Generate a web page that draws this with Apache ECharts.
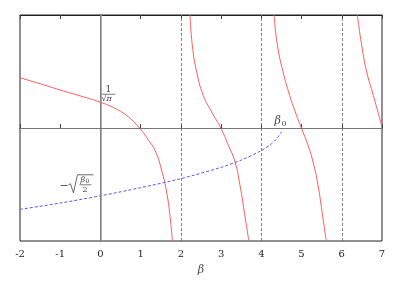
<!DOCTYPE html>
<html><head><meta charset="utf-8">
<script src="https://cdn.jsdelivr.net/npm/echarts@6/dist/echarts.min.js"></script>
<style>html,body{margin:0;padding:0;background:#fff}#c{width:402px;height:282px}</style>
</head><body><div id="c"></div>
<script>
const xTicks = [-2,-1,0,1,2,3,4,5,6,7];
const vDashed = [2,4,6];
const curve1 = [[-2,1.11],[-1.5,0.98],[-1,0.84],[-0.5,0.71],[0,0.57],[0.36,0.435],[0.69,0.25],[0.97,0],[1.19,-0.265],[1.36,-0.5],[1.52,-0.93],[1.65,-1.44],[1.73,-1.96],[1.79,-2.5]];
const curve2 = [[2.227,2.5],[2.284,1.83],[2.393,1.24],[2.557,0.72],[2.766,0.354],[2.99,0],[3.18,-0.38],[3.345,-0.75],[3.47,-1.27],[3.577,-1.86],[3.69,-2.5]];
const curve3 = [[4.315,2.5],[4.40,1.83],[4.54,1.24],[4.705,0.72],[4.845,0.354],[4.995,0],[5.16,-0.38],[5.285,-0.75],[5.41,-1.27],[5.51,-1.86],[5.615,-2.5]];
const curve4 = [[6.386,2.5],[6.495,1.83],[6.62,1.24],[6.785,0.72],[7.0,0.03]];
const blue = [[-2,-1.80],[-1,-1.66],[0,-1.50],[1,-1.32],[2,-1.12],[3,-0.87],[3.5,-0.71],[4,-0.50],[4.25,-0.35],[4.4,-0.22],[4.5,-0.08]];

const chart = echarts.init(document.getElementById('c'), null, {renderer:'canvas'});
const serif = '"DejaVu Serif","Liberation Serif",serif';
const red = {type:'line', showSymbol:false, smooth:0.5, lineStyle:{color:'#ff5a5a', width:1}, silent:true, z:3};
chart.setOption({
  animation:false,
  grid:{left:20,right:20,top:15,bottom:41,show:true,borderColor:'#222',borderWidth:1},
  xAxis:[{type:'value',min:-2,max:7,interval:1,
    axisLine:{lineStyle:{color:'#222'}},
    axisTick:{inside:true,length:4,lineStyle:{color:'#444'}},
    axisLabel:{color:'#222',fontFamily:serif,fontSize:10,margin:8,formatter:v=>String(v)},
    splitLine:{show:false},
    name:'β',nameLocation:'middle',nameGap:24,nameTextStyle:{fontFamily:serif,fontStyle:'italic',fontSize:11,color:'#444'}},
    {type:'value',position:'top',min:-2,max:7,interval:1,axisLine:{lineStyle:{color:'#222'}},
     axisTick:{inside:true,length:4,lineStyle:{color:'#444'}},axisLabel:{show:false},splitLine:{show:false}}],
  yAxis:{type:'value',min:-2.5,max:2.5,axisLine:{show:true,lineStyle:{color:'#222'}},axisTick:{show:false},axisLabel:{show:false},splitLine:{show:false}},
  series:[
    {type:'line',data:[],silent:true,
     markLine:{symbol:'none',silent:true,label:{show:false},animation:false,
       data:[
         {xAxis:0,lineStyle:{color:'#999',width:1.6,type:'solid'}},
         {yAxis:0,lineStyle:{color:'#777',width:1.2,type:'solid'}},
         ...vDashed.map(v=>({xAxis:v,lineStyle:{color:'#666',width:0.8,type:[3,2]}}))
       ]}},
    Object.assign({data:curve1},red),
    Object.assign({data:curve2},red),
    Object.assign({data:curve3},red),
    Object.assign({data:curve4},red),
    {type:'line',data:blue,showSymbol:false,smooth:0.3,silent:true,z:3,
     lineStyle:{color:'#5555ff',width:1,type:[3,2]}}
  ]
});

// annotations anchored to data coordinates
const p1 = chart.convertToPixel({xAxisIndex:0,yAxisIndex:0},[0,0.57]);
const p2 = chart.convertToPixel({xAxisIndex:0,yAxisIndex:0},[4.5,0]);
const p3 = chart.convertToPixel({xAxisIndex:0,yAxisIndex:0},[0,-1.5]);
const tc = '#444';
chart.setOption({graphic:[
  // 1/sqrt(pi)
  {type:'text',x:p1[0]+5,y:p1[1]-17,style:{text:'1',font:'9px '+serif,fill:tc}},
  {type:'line',shape:{x1:p1[0]+1,y1:p1[1]-8,x2:p1[0]+15,y2:p1[1]-8},style:{stroke:tc,lineWidth:0.7}},
  {type:'text',x:p1[0]+1,y:p1[1]-7,style:{text:'√π',font:'italic 8px '+serif,fill:tc}},
  // beta_0
  {type:'text',x:p2[0]-7,y:p2[1]-12,style:{text:'β',font:'italic 11px '+serif,fill:tc}},
  {type:'text',x:p2[0]+0,y:p2[1]-8,style:{text:'0',font:'8px '+serif,fill:tc}},
  // -sqrt(beta0/2)
  {type:'text',x:p3[0]-41,y:p3[1]-15,style:{text:'−',font:'11px '+serif,fill:tc}},
  {type:'polyline',shape:{points:[[p3[0]-32,p3[1]-11],[p3[0]-30,p3[1]-12],[p3[0]-27,p3[1]-3],[p3[0]-23,p3[1]-21],[p3[0]-7,p3[1]-21]]},style:{stroke:tc,lineWidth:0.8,fill:null}},
  {type:'text',x:p3[0]-20,y:p3[1]-20,style:{text:'β',font:'italic 8px '+serif,fill:tc}},
  {type:'text',x:p3[0]-15,y:p3[1]-17,style:{text:'0',font:'6px '+serif,fill:tc}},
  {type:'line',shape:{x1:p3[0]-21,y1:p3[1]-11,x2:p3[0]-9,y2:p3[1]-11},style:{stroke:tc,lineWidth:0.7}},
  {type:'text',x:p3[0]-18,y:p3[1]-10,style:{text:'2',font:'8px '+serif,fill:tc}}
]});
</script></body></html>
